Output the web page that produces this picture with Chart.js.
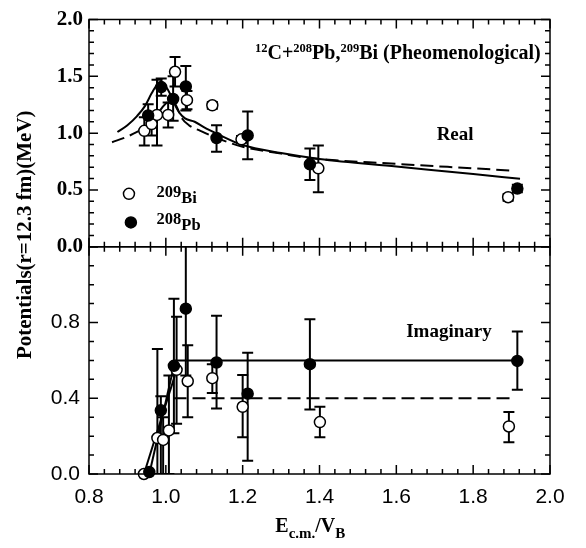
<!DOCTYPE html>
<html><head><meta charset="utf-8">
<script src="https://cdn.jsdelivr.net/npm/chart.js@4.4.0/dist/chart.umd.min.js"></script>
<style>html,body{margin:0;padding:0;background:#fff;}#wrap{width:586px;height:548px;}</style>
</head><body><div id="wrap"><canvas id="c" width="586" height="548"></canvas></div>
<script>
// ---------------- tick labels ----------------
const xTickLabels = ['0.8','1.0','1.2','1.4','1.6','1.8','2.0'];
const realTickLabels = ['0.0','0.5','1.0','1.5','2.0'];
const imagTickLabels = ['0.0','0.4','0.8'];

// ---------------- Real part (top panel) ----------------
// 209Bi (open circles)
const realBiX  = [0.944, 0.963, 0.977, 1.006, 1.024, 1.055, 1.121, 1.197, 1.397, 1.891];
const realBiY  = [1.02,  1.08,  1.16,  1.16,  1.54,  1.29,  1.245, 0.945, 0.69,  0.436];
const realBiLo = [0.89,  0.98,  0.89,  1.05,  1.41,  1.21,  1.215, 0.915, 0.48,  0.405];
const realBiHi = [1.14,  1.18,  1.47,  1.27,  1.67,  1.37,  1.275, 0.975, 0.89,  0.465];
// 208Pb (filled circles)
const realPbX  = [0.954, 0.988, 1.019, 1.052, 1.132, 1.213, 1.375, 1.915];
const realPbY  = [1.155, 1.405, 1.30,  1.41,  0.957, 0.98,  0.726, 0.512];
const realPbLo = [1.05,  1.33,  1.11,  1.20,  0.835, 0.77,  0.587, 0.48];
const realPbHi = [1.255, 1.48,  1.50,  1.59,  1.07,  1.19,  0.865, 0.545];
// fit curves (solid = Pb, dashed = Bi)
const realSolidX = [0.874,0.90,0.925,0.946,0.963,0.976,0.987,1.0,1.012,1.025,1.035,1.05,1.075,1.10,1.13,1.20,1.30,1.40,1.60,1.80,1.922];
const realSolidY = [1.01, 1.07,1.15, 1.24, 1.35, 1.42, 1.44, 1.41,1.34, 1.24, 1.18, 1.13,1.10, 1.05,1.00,0.895,0.825,0.773,0.706,0.64,0.598];
const realDashX  = [0.86,0.90,0.925,0.95,0.97,0.985,1.0,1.01,1.022,1.03,1.04,1.06,1.09,1.13,1.20,1.30,1.35,1.60,1.80,1.90];
const realDashY  = [0.92,0.97,1.01, 1.06,1.12,1.20, 1.26,1.28,1.27, 1.22,1.14,1.07,1.02,0.96,0.88,0.82,0.79,0.73,0.69,0.67];

// ---------------- Imaginary part (bottom panel) ----------------
const imagBiX  = [0.943, 0.978, 0.993, 1.008, 1.028, 1.057, 1.121, 1.200, 1.401, 1.893];
const imagBiY  = [0.0,   0.19,  0.18,  0.23,  0.55,  0.49,  0.506, 0.355, 0.274, 0.251];
const imagBiLo = [null,  0.0,   0.0,   0.0,   0.265, 0.30,  0.428, 0.194, 0.194, 0.168];
const imagBiHi = [null,  0.66,  0.30,  0.52,  0.83,  0.68,  0.58,  0.523, 0.355, 0.327];
const imagPbX  = [0.957, 0.987, 1.021, 1.052, 1.132, 1.213, 1.375, 1.915];
const imagPbY  = [0.01,  0.336, 0.571, 0.873, 0.589, 0.424, 0.58,  0.597];
const imagPbLo = [null,  0.0,   0.215, 0.52,  0.346, 0.07,  0.341, 0.445];
const imagPbHi = [null,  0.41,  0.926, 1.30,  0.835, 0.64,  0.817, 0.753];
const imagSolidX = [1.024, 1.915];
const imagSolidY = [0.60, 0.60];
const imagDashX  = [1.02, 1.90];
const imagDashY  = [0.40, 0.40];
const imagRisePbX = [0.957, 1.021];
const imagRisePbY = [0.0, 0.571];
const imagRiseBiX = [0.943, 1.028];
const imagRiseBiY = [0.0, 0.549];

// ---------------- helpers ----------------
const pts = (xs, ys) => xs.map((x, i) => ({x: x, y: ys[i]}));
const SERIF = '"Liberation Serif", "Times New Roman", serif';
const SANS = '"Liberation Sans", Arial, sans-serif';

function pointSet(xs, ys, lo, hi, axis, filled) {
  return {type: 'scatter', data: pts(xs, ys), yAxisID: axis, showLine: false, clip: false,
    pointRadius: 5.5, pointHoverRadius: 5.5, pointBorderWidth: 1.5,
    pointBackgroundColor: filled ? '#000' : '#fff', pointBorderColor: '#000',
    errLo: lo, errHi: hi};
}
function lineSet(xs, ys, axis, dashed, mono) {
  return {type: 'line', data: pts(xs, ys), yAxisID: axis, showLine: true, pointRadius: 0,
    borderColor: '#000', borderWidth: 2, borderDash: dashed ? [13, 6] : [],
    cubicInterpolationMode: mono ? 'monotone' : 'default', tension: 0, fill: false};
}

// error bars, drawn from the scales
const errorBarPlugin = {
  id: 'errbars',
  beforeDatasetsDraw(chart) {
    const ctx = chart.ctx, xs = chart.scales.x;
    chart.data.datasets.forEach(ds => {
      if (!ds.errLo) return;
      const ys = chart.scales[ds.yAxisID];
      ctx.save();
      ctx.beginPath();
      ctx.rect(xs.left - 10, ys.top, xs.width + 20, ys.height);
      ctx.clip();
      ctx.strokeStyle = '#000';
      ctx.lineWidth = 2;
      ds.data.forEach((p, j) => {
        const lo = ds.errLo[j], hi = ds.errHi[j];
        if (lo == null) return;
        const px = xs.getPixelForValue(p.x);
        const pl = ys.getPixelForValue(lo), ph = ys.getPixelForValue(hi);
        ctx.beginPath();
        ctx.moveTo(px, pl); ctx.lineTo(px, ph);
        ctx.moveTo(px - 5.5, pl); ctx.lineTo(px + 5.5, pl);
        ctx.moveTo(px - 5.5, ph); ctx.lineTo(px + 5.5, ph);
        ctx.stroke();
      });
      ctx.restore();
    });
  }
};

// frame with inward ticks on all sides of both panels
const framePlugin = {
  id: 'frame',
  afterDatasetsDraw(chart) {
    const ctx = chart.ctx, xs = chart.scales.x;
    const panels = [{s: chart.scales.yT, max: 2.0, major: 0.5}, {s: chart.scales.yB, max: 1.2, major: 0.4}];
    ctx.save();
    ctx.strokeStyle = '#000';
    ctx.lineWidth = 1.5;
    const L = xs.left, R = xs.right;
    panels.forEach(p => {
      const T = p.s.top, B = p.s.bottom;
      ctx.strokeRect(L, T, R - L, B - T);
      ctx.beginPath();
      for (let k = 0; k <= 30; k++) {
        const v = 0.8 + k * 0.04;
        const len = (k % 5 === 0) ? 9 : 5;
        const px = xs.getPixelForValue(v);
        ctx.moveTo(px, T); ctx.lineTo(px, T + len);
        ctx.moveTo(px, B); ctx.lineTo(px, B - len);
      }
      const n = Math.round(p.max / 0.1);
      const every = Math.round(p.major / 0.1);
      for (let k = 0; k <= n; k++) {
        const py = p.s.getPixelForValue(k * 0.1);
        const len = (k % every === 0) ? 9 : 5;
        ctx.moveTo(L, py); ctx.lineTo(L + len, py);
        ctx.moveTo(R, py); ctx.lineTo(R - len, py);
      }
      ctx.stroke();
    });
    ctx.restore();
  }
};

// draws runs of text with super/subscripts
function rich(ctx, parts, x, y) {
  let cx = x;
  parts.forEach(p => {
    ctx.font = 'bold ' + p.size + 'px ' + SERIF;
    ctx.fillText(p.t, cx, y + (p.dy || 0));
    cx += ctx.measureText(p.t).width;
  });
}

const textPlugin = {
  id: 'texts',
  afterDraw(chart) {
    const ctx = chart.ctx, xs = chart.scales.x, yT = chart.scales.yT, yB = chart.scales.yB;
    ctx.save();
    ctx.fillStyle = '#000';
    ctx.textBaseline = 'alphabetic';
    ctx.textAlign = 'left';
    // reaction label
    rich(ctx, [
      {t: '12', size: 12.5, dy: -7}, {t: 'C+', size: 20},
      {t: '208', size: 12.5, dy: -7}, {t: 'Pb,', size: 20},
      {t: '209', size: 12.5, dy: -7}, {t: 'Bi (Pheomenological)', size: 20}
    ], xs.getPixelForValue(1.232), yT.getPixelForValue(1.648));
    // panel labels
    ctx.textAlign = 'center';
    ctx.font = 'bold 19px ' + SERIF;
    ctx.fillText('Real', xs.getPixelForValue(1.753), yT.getPixelForValue(0.937));
    ctx.fillText('Imaginary', xs.getPixelForValue(1.737), yB.getPixelForValue(0.722));
    ctx.textAlign = 'left';
    // legend
    ctx.lineWidth = 1.5; ctx.strokeStyle = '#000';
    ctx.beginPath(); ctx.arc(xs.getPixelForValue(0.904), yT.getPixelForValue(0.466), 5.5, 0, Math.PI * 2);
    ctx.fillStyle = '#fff'; ctx.fill(); ctx.stroke();
    ctx.beginPath(); ctx.arc(xs.getPixelForValue(0.909), yT.getPixelForValue(0.214), 5.5, 0, Math.PI * 2);
    ctx.fillStyle = '#000'; ctx.fill(); ctx.stroke();
    const tx = xs.getPixelForValue(0.976);
    rich(ctx, [{t: '209', size: 16.5}, {t: 'Bi', size: 16.5, dy: 6}], tx, yT.getPixelForValue(0.436));
    rich(ctx, [{t: '208', size: 16.5}, {t: 'Pb', size: 16.5, dy: 6}], tx, yT.getPixelForValue(0.197));
    // x axis title
    rich(ctx, [{t: 'E', size: 20}, {t: 'c.m.', size: 15, dy: 6}, {t: '/V', size: 20}, {t: 'B', size: 15, dy: 6}],
      xs.getPixelForValue(1.285), yB.bottom + 58);
    // y axis title
    ctx.translate(xs.left - 58, (yT.top + yB.bottom) / 2 - 12);
    ctx.rotate(-Math.PI / 2);
    ctx.textAlign = 'center';
    ctx.font = 'bold 21px ' + SERIF;
    ctx.fillText('Potentials(r=12.3 fm)(MeV)', 0, 0);
    ctx.restore();
  }
};

const pick = (list) => (v) => {
  const s = Number(v).toFixed(1);
  return list.includes(s) ? s : '';
};

new Chart(document.getElementById('c'), {
  data: {
    datasets: [
      pointSet(realPbX, realPbY, realPbLo, realPbHi, 'yT', true),
      pointSet(realBiX, realBiY, realBiLo, realBiHi, 'yT', false),
      pointSet(imagPbX, imagPbY, imagPbLo, imagPbHi, 'yB', true),
      pointSet(imagBiX, imagBiY, imagBiLo, imagBiHi, 'yB', false),
      lineSet(realSolidX, realSolidY, 'yT', false, true),
      lineSet(realDashX, realDashY, 'yT', true, true),
      lineSet(imagSolidX, imagSolidY, 'yB', false, false),
      lineSet(imagDashX, imagDashY, 'yB', true, false),
      lineSet(imagRisePbX, imagRisePbY, 'yB', false, false),
      lineSet(imagRiseBiX, imagRiseBiY, 'yB', false, false)
    ]
  },
  options: {
    responsive: false, animation: false, devicePixelRatio: 1,
    layout: {padding: {top: 12, right: 36, left: 0, bottom: 0}},
    plugins: {legend: {display: false}, tooltip: {enabled: false}},
    scales: {
      x: {type: 'linear', min: 0.8, max: 2.0,
        grid: {display: false, drawTicks: false}, border: {display: false},
        ticks: {stepSize: 0.2, padding: 11, color: '#000', maxRotation: 0,
          font: {family: SANS, size: 21, lineHeight: 1.2}, callback: pick(xTickLabels)},
        afterFit: s => { s.height = 74; }},
      yB: {type: 'linear', position: 'left', stack: 'panels', stackWeight: 1, min: 0, max: 1.2,
        grid: {display: false, drawTicks: false}, border: {display: false},
        ticks: {stepSize: 0.4, padding: 9, color: '#000',
          font: {family: SANS, size: 21, lineHeight: 1}, callback: pick(imagTickLabels)},
        afterFit: s => { s.width = 89; }},
      yT: {type: 'linear', position: 'left', stack: 'panels', stackWeight: 1, min: 0, max: 2.0,
        grid: {display: false, drawTicks: false}, border: {display: false},
        ticks: {stepSize: 0.5, padding: 6, color: '#000',
          font: {family: SERIF, size: 21, weight: 'bold', lineHeight: 1}, callback: pick(realTickLabels)},
        afterFit: s => { s.width = 89; }}
    }
  },
  plugins: [errorBarPlugin, framePlugin, textPlugin]
});
</script></body></html>
